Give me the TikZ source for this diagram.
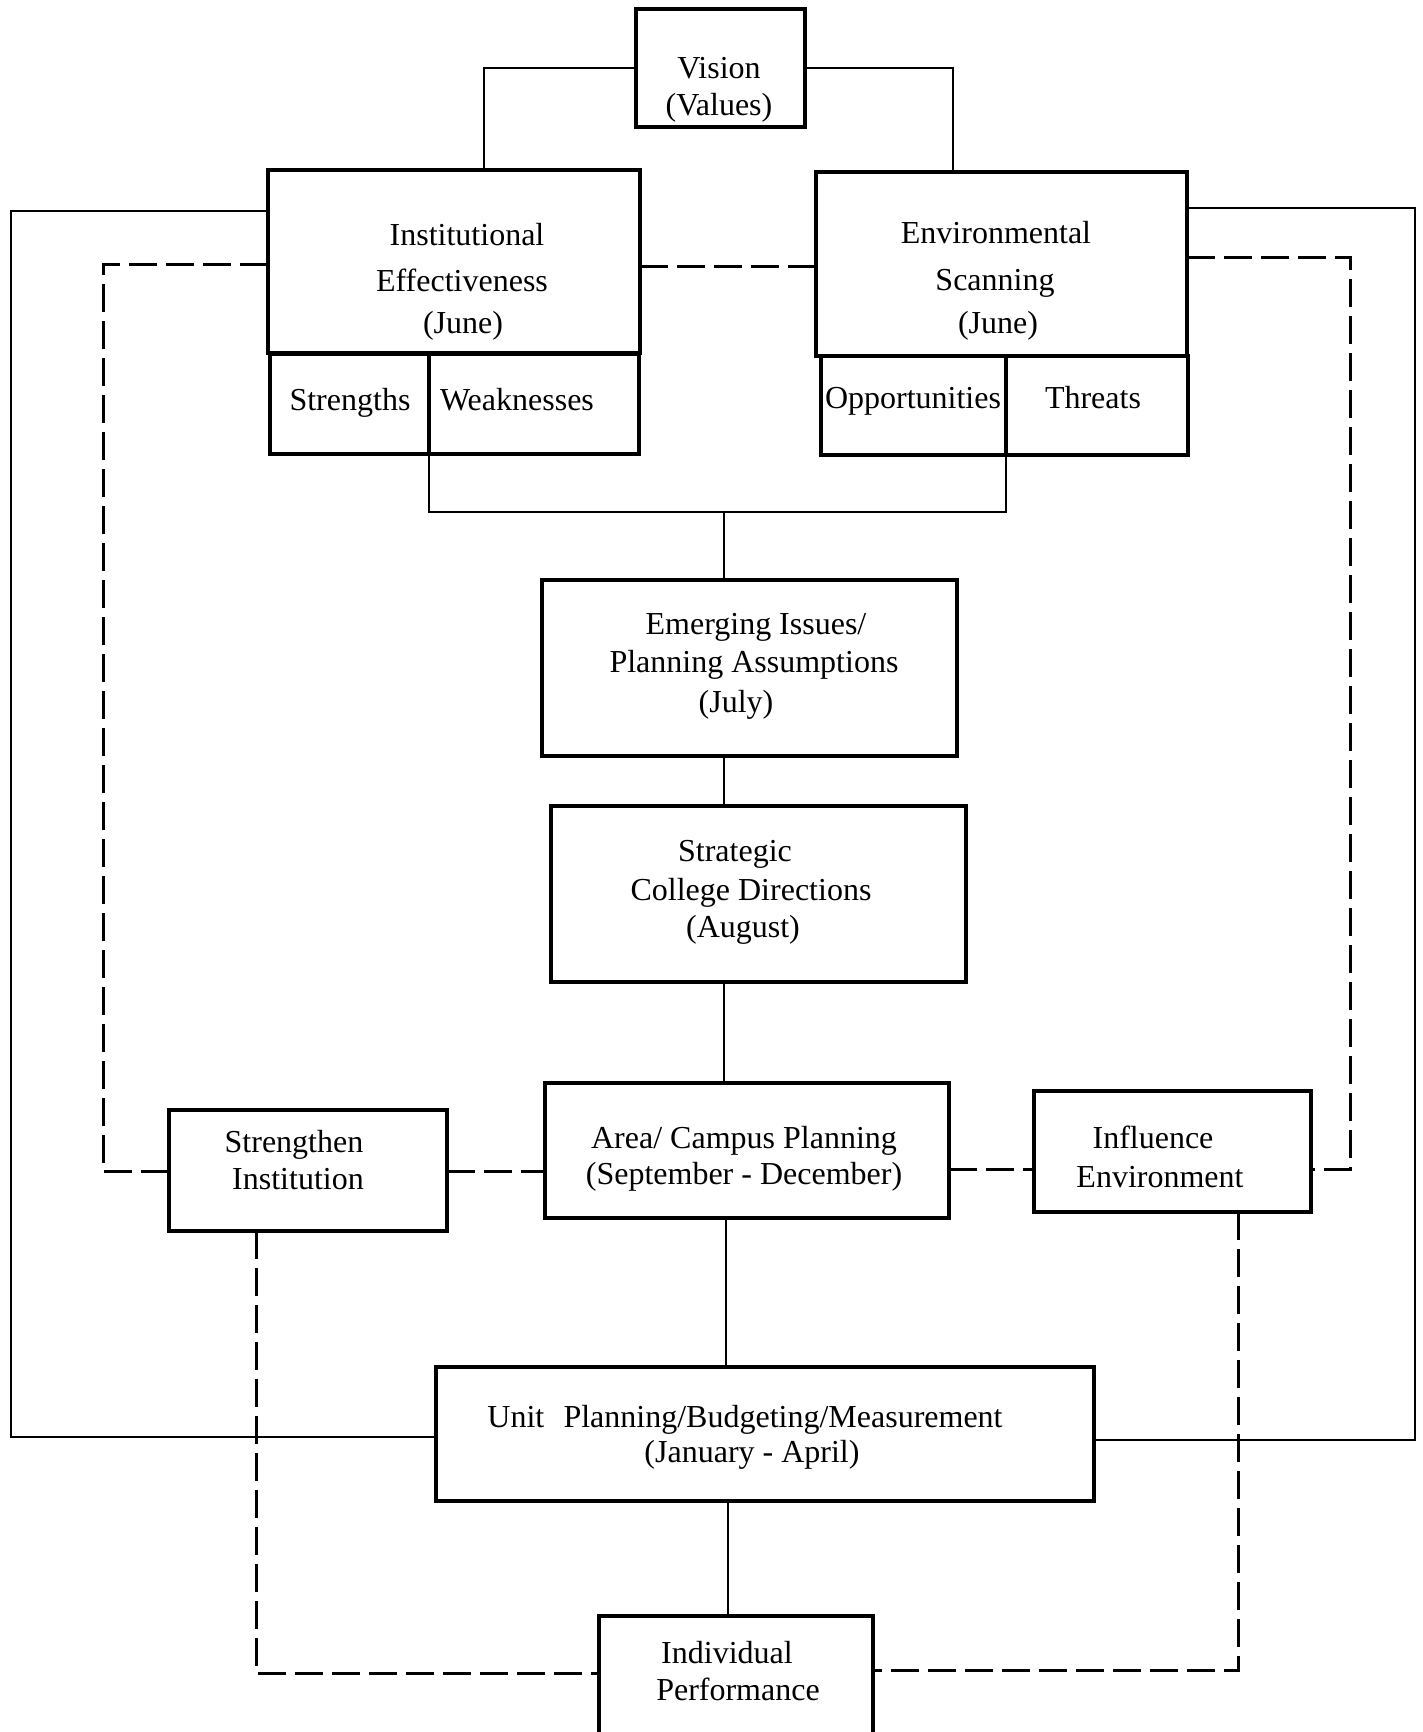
\documentclass[tikz,border=0pt]{standalone}
\usepackage{fontspec}
\setmainfont{Liberation Serif}
\begin{document}
\begin{tikzpicture}[x=1pt,y=-1pt,
  box/.style={draw, line width=3.2pt, inner sep=0pt, outer sep=0pt},
  txt/.style={font=\fontsize{32}{38}\selectfont, inner sep=0pt, anchor=base},
  conn/.style={line width=2.4pt},
  dconn/.style={line width=3pt, dash pattern=on 28pt off 9pt}]
\useasboundingbox (0,0) rectangle (1423,1732);
% boxes
\node[box, minimum width=169pt, minimum height=118pt] (vision) at (720.5,68) {};
\node[box, minimum width=372pt, minimum height=183pt] (ie) at (454,261.5) {};
\node[box, minimum width=159pt, minimum height=100pt] (str) at (349.5,404) {};
\node[box, minimum width=210pt, minimum height=100pt] (weak) at (534,404) {};
\node[box, minimum width=371pt, minimum height=184pt] (es) at (1001.5,264) {};
\node[box, minimum width=185pt, minimum height=99pt] (opp) at (913.5,405.5) {};
\node[box, minimum width=182pt, minimum height=99pt] (thr) at (1097,405.5) {};
\node[box, minimum width=415pt, minimum height=176pt] (emerg) at (749.5,668) {};
\node[box, minimum width=415pt, minimum height=176pt] (strat) at (758.5,894) {};
\node[box, minimum width=404pt, minimum height=135pt] (area) at (747,1150.5) {};
\node[box, minimum width=278pt, minimum height=121pt] (streng) at (308,1170.5) {};
\node[box, minimum width=277pt, minimum height=121pt] (infl) at (1172.5,1151.5) {};
\node[box, minimum width=658pt, minimum height=134pt] (unit) at (765,1434) {};
\node[box, minimum width=274pt, minimum height=134pt] (indiv) at (736,1683) {};
% texts
\node[txt] (t-vis1) at (719,78) {Vision};
\node[txt] (t-vis2) at (719,115) {(Values)};
\node[txt] (t-ie1) at (467,245) {Institutional};
\node[txt] (t-ie2) at (462,291) {Effectiveness};
\node[txt] (t-ie3) at (463,333) {(June)};
\node[txt] (t-es1) at (996,243) {Environmental};
\node[txt] (t-es2) at (995,290) {Scanning};
\node[txt] (t-es3) at (998,333) {(June)};
\node[txt] (t-str) at (350,410) {Strengths};
\node[txt] (t-weak) at (517,410) {Weaknesses};
\node[txt] (t-opp) at (913,408) {Opportunities};
\node[txt] (t-thr) at (1093,408) {Threats};
\node[txt] (t-em1) at (756,634) {Emerging Issues/};
\node[txt] (t-em2) at (754,672) {Planning Assumptions};
\node[txt] (t-em3) at (736,712) {(July)};
\node[txt] (t-st1) at (735,861) {Strategic};
\node[txt] (t-st2) at (751,900) {College Directions};
\node[txt] (t-st3) at (743,937) {(August)};
\node[txt] (t-ar1) at (744,1148) {Area/ Campus Planning};
\node[txt] (t-ar2) at (744,1184) {(September - December)};
\node[txt] (t-sg1) at (294,1152) {Strengthen};
\node[txt] (t-sg2) at (298,1189) {Institution};
\node[txt] (t-in1) at (1153,1148) {Influence};
\node[txt] (t-in2) at (1160,1187) {Environment};
\node[txt] (t-un1) at (745,1427) {Unit\hspace{0.6em}Planning/Budgeting/Measurement};
\node[txt] (t-un2) at (752,1462) {(January - April)};
\node[txt] (t-iv1) at (727,1663) {Individual};
\node[txt] (t-iv2) at (738,1700) {Performance};
% solid connectors
\coordinate (jn) at (724,512);
\draw[conn] (vision.west) -| (ie.north -| 484,0);
\draw[conn] (vision.east) -| (es.north -| 953,0);
\draw[conn] (str.south east) |- (jn) -| (opp.south east);
\draw[conn] (jn) -- (jn |- emerg.north);
\draw[conn] (emerg.south -| jn) -- (strat.north -| jn);
\draw[conn] (strat.south -| jn) -- (area.north -| jn);
\draw[conn] (area.south -| 726,0) -- (unit.north -| 726,0);
\draw[conn] (unit.south -| 728,0) -- (indiv.north -| 728,0);
\draw[conn] (ie.west |- 0,211) -| (11,1437) -- (unit.west |- 0,1437);
\draw[conn] (es.east |- 0,208) -| (1415,1440) -- (unit.east |- 0,1440);
% dashed connectors
\draw[dconn] (ie.west |- 0,264) -| (103,1171) -- (streng.west |- 0,1171);
\draw[dconn] (ie.east |- 0,266) -- (es.west |- 0,266);
\draw[dconn] (es.east |- 0,257) -| (1350,1169) -- (infl.east |- 0,1169);
\draw[dconn] (streng.east |- 0,1171) -- (area.west |- 0,1171);
\draw[dconn] (area.east |- 0,1169) -- (infl.west |- 0,1169);
\draw[dconn] (streng.south -| 256,0) |- (indiv.west |- 0,1673);
\draw[dconn] (infl.south -| 1238,0) |- (indiv.east |- 0,1670);
\end{tikzpicture}
\end{document}
